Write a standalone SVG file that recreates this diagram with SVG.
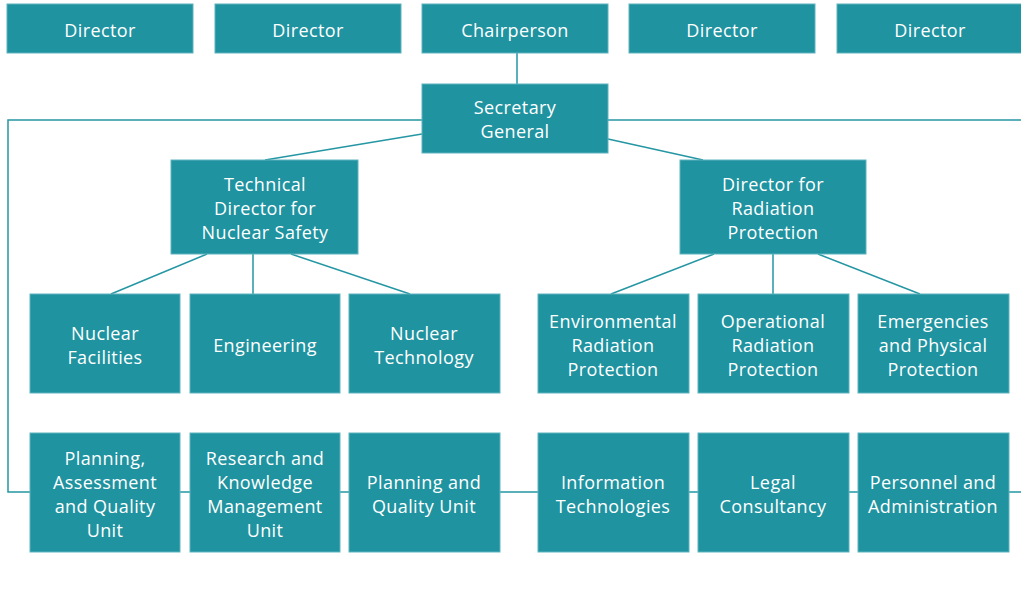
<svg xmlns="http://www.w3.org/2000/svg" width="1021" height="607" viewBox="0 0 1021 607">
<style>
.b{fill:#1f93a0;stroke:#5fb3bd;stroke-width:1}
.t{fill:#ffffff;font-family:"Open Sans","Noto Sans",sans-serif;font-size:18px;letter-spacing:0.4px;text-anchor:middle}
.c{stroke:#2596a3;stroke-width:1.5;fill:none}
</style>
<rect width="1021" height="607" fill="#ffffff"/>
<g id="connectors">
<line class="c" x1="517" y1="53" x2="517" y2="84"/>
<polyline class="c" points="422,120 8,120 8,492 1021,492"/>
<line class="c" x1="608" y1="120" x2="1021" y2="120"/>
<line class="c" x1="422" y1="134" x2="265" y2="160"/>
<line class="c" x1="608" y1="139" x2="703" y2="160"/>
<line class="c" x1="207" y1="254" x2="111" y2="294"/>
<line class="c" x1="253" y1="254" x2="253" y2="294"/>
<line class="c" x1="291" y1="254" x2="410" y2="294"/>
<line class="c" x1="714" y1="254" x2="611" y2="294"/>
<line class="c" x1="773" y1="254" x2="773" y2="294"/>
<line class="c" x1="818" y1="254" x2="920" y2="294"/>
</g>
<g id="director1"><rect class="b" x="7" y="4" width="186" height="49"/><text class="t" x="100" y="37">Director</text></g>
<g id="director2"><rect class="b" x="215" y="4" width="186" height="49"/><text class="t" x="308" y="37">Director</text></g>
<g id="chairperson"><rect class="b" x="422" y="4" width="186" height="49"/><text class="t" x="515" y="37">Chairperson</text></g>
<g id="director3"><rect class="b" x="629" y="4" width="186" height="49"/><text class="t" x="722" y="37">Director</text></g>
<g id="director4"><rect class="b" x="837" y="4" width="186" height="49"/><text class="t" x="930" y="37">Director</text></g>
<g id="secretary-general"><rect class="b" x="422" y="84" width="186" height="69"/><text class="t" x="515" y="114">Secretary</text><text class="t" x="515" y="138">General</text></g>
<g id="technical-director"><rect class="b" x="171" y="160" width="187" height="94"/><text class="t" x="265" y="191">Technical</text><text class="t" x="265" y="215">Director for</text><text class="t" x="265" y="239">Nuclear Safety</text></g>
<g id="radiation-director"><rect class="b" x="680" y="160" width="186" height="94"/><text class="t" x="773" y="191">Director for</text><text class="t" x="773" y="215">Radiation</text><text class="t" x="773" y="239">Protection</text></g>
<g id="nuclear-facilities"><rect class="b" x="30" y="294" width="150" height="99"/><text class="t" x="105" y="340">Nuclear</text><text class="t" x="105" y="364">Facilities</text></g>
<g id="engineering"><rect class="b" x="190" y="294" width="150" height="99"/><text class="t" x="265" y="352">Engineering</text></g>
<g id="nuclear-technology"><rect class="b" x="349" y="294" width="151" height="99"/><text class="t" x="424" y="340">Nuclear</text><text class="t" x="424" y="364">Technology</text></g>
<g id="environmental"><rect class="b" x="538" y="294" width="151" height="99"/><text class="t" x="613" y="328">Environmental</text><text class="t" x="613" y="352">Radiation</text><text class="t" x="613" y="376">Protection</text></g>
<g id="operational"><rect class="b" x="698" y="294" width="151" height="99"/><text class="t" x="773" y="328">Operational</text><text class="t" x="773" y="352">Radiation</text><text class="t" x="773" y="376">Protection</text></g>
<g id="emergencies"><rect class="b" x="858" y="294" width="151" height="99"/><text class="t" x="933" y="328">Emergencies</text><text class="t" x="933" y="352">and Physical</text><text class="t" x="933" y="376">Protection</text></g>
<g id="planning-assessment"><rect class="b" x="30" y="433" width="150" height="119"/><text class="t" x="105" y="465">Planning,</text><text class="t" x="105" y="489">Assessment</text><text class="t" x="105" y="513">and Quality</text><text class="t" x="105" y="537">Unit</text></g>
<g id="research"><rect class="b" x="190" y="433" width="150" height="119"/><text class="t" x="265" y="465">Research and</text><text class="t" x="265" y="489">Knowledge</text><text class="t" x="265" y="513">Management</text><text class="t" x="265" y="537">Unit</text></g>
<g id="planning-quality"><rect class="b" x="349" y="433" width="151" height="119"/><text class="t" x="424" y="489">Planning and</text><text class="t" x="424" y="513">Quality Unit</text></g>
<g id="information"><rect class="b" x="538" y="433" width="151" height="119"/><text class="t" x="613" y="489">Information</text><text class="t" x="613" y="513">Technologies</text></g>
<g id="legal"><rect class="b" x="698" y="433" width="151" height="119"/><text class="t" x="773" y="489">Legal</text><text class="t" x="773" y="513">Consultancy</text></g>
<g id="personnel"><rect class="b" x="858" y="433" width="151" height="119"/><text class="t" x="933" y="489">Personnel and</text><text class="t" x="933" y="513">Administration</text></g>
</svg>
